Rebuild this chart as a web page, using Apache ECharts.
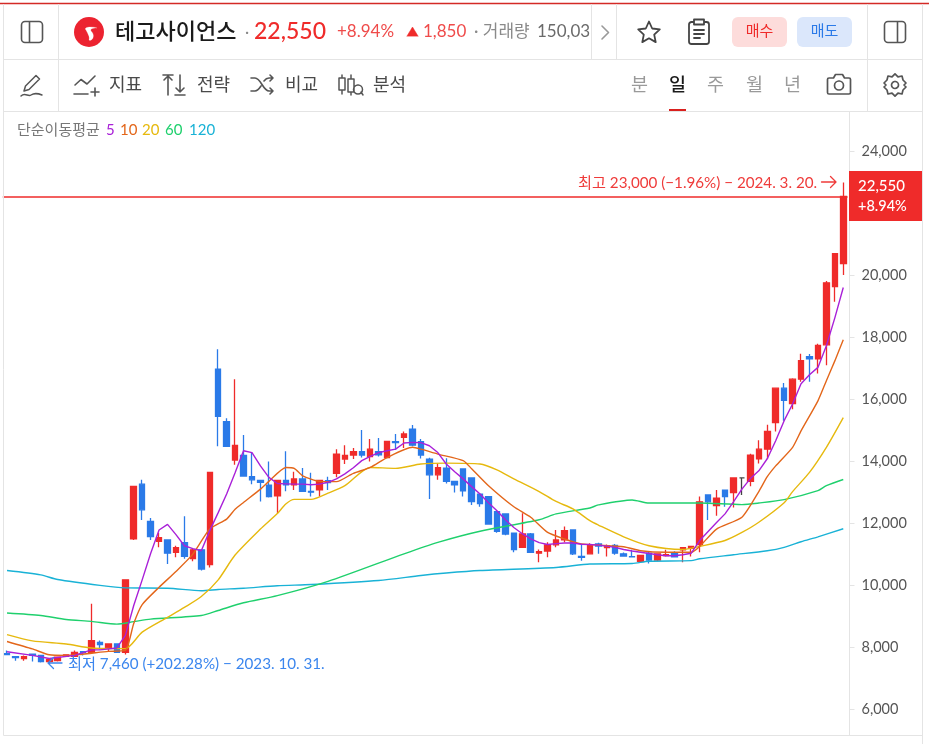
<!DOCTYPE html>
<html lang="ko">
<head>
<meta charset="utf-8">
<title>테고사이언스 일봉 차트</title>
<style>
  html, body { margin: 0; padding: 0; background: #fff; overflow: hidden; }
  #chart { width: 929px; height: 744px; }
</style>
<script src="https://cdn.jsdelivr.net/npm/echarts@6/dist/echarts.min.js"></script>
</head>
<body>
<div id="chart"></div>
<script>
// 일봉 시세 (원)
const opens = [7790,7690,7630,7770,7730,7530,7560,7700,7700,7850,7830,8150,7970,8100,7830,
  11490,13260,12060,11410,11460,11060,11370,10860,11140,10660,16970,15280,14040,14190,13500,
  13380,13230,12880,13380,13240,13430,13030,13080,13370,13610,14070,14200,14310,14150,14310,
  14120,14630,14770,15040,14630,14070,13560,13780,13350,13750,13460,12940,12860,12370,12300,
  11680,11220,11650,11030,11100,11300,11460,11780,10930,11010,11330,11210,11280,11010,10920,
  10770,11030,10810,10950,11050,11140,11190,11310,12910,12570,13070,12990,13460,13350,14080,
  14390,15250,16360,15860,16650,17380,17310,17760,19640,20380];
const closes = [7760,7660,7690,7730,7530,7600,7670,7750,7830,7810,8210,8080,8100,7830,10170,
  13190,12430,11570,11530,11030,11210,10930,11140,10520,13640,15450,14480,14510,13520,13400,
  13320,12860,13380,13240,13430,13030,13000,13380,13310,14230,14190,14310,14200,14390,14210,
  14640,14600,14880,14520,14200,13560,13790,13350,13240,13040,12700,12630,11970,11740,11650,
  11150,11650,11060,11080,11300,11460,11760,11010,10900,11310,11260,11270,11030,10940,10910,
  10960,10810,11010,10980,10910,11210,11250,12690,12690,12810,12860,13460,13460,14200,14390,
  14960,16360,15970,16650,17250,17310,17740,19760,20700,22550];
const lows = [7760,7560,7560,7530,7500,7460,7530,7690,7690,7730,7830,7920,7850,7830,7760,
  11460,12100,11460,11220,10680,10900,10850,10770,10470,10570,14480,14480,13890,13520,13260,
  12700,12830,12320,13030,13070,13020,12860,12860,13070,13480,13910,14070,14120,13990,14150,
  14110,14360,14430,14480,14090,12780,13400,13280,12990,12860,12590,12530,11950,11690,11610,
  11060,11200,11050,10740,10900,11220,11380,10970,10790,11000,11010,10920,10980,10920,10890,
  10760,10700,10770,10920,10890,10740,10920,11060,12100,12240,12530,12510,12910,13190,13930,
  14070,14960,15310,15680,16570,16570,16830,17100,19150,20010];
const highs = [7890,7690,7730,7770,7730,7620,7690,7770,7890,7860,9400,8210,8110,8110,10170,
  13200,13400,12170,11690,11470,11270,12220,11200,11140,13640,17620,15390,16650,14850,14280,
  13390,13990,13400,14320,13660,13780,13630,13400,13500,14390,14520,14430,15010,14720,14750,
  14650,14880,14960,15170,14720,14110,13930,14100,13370,13760,13470,12950,12870,12380,12310,
  11690,12320,11680,11150,11380,11780,11890,11790,11330,11350,11370,11310,11330,11050,11140,
  10970,11090,11020,11140,11090,11220,11270,12860,12920,13070,13080,13470,13460,14240,14680,
  15180,16370,16530,16680,17470,17460,17790,19820,20720,23000];
const flatDay = 87;

// 단순이동평균 [봉 번호, 값]
const ma5 = [[0,7850],[3,7730],[5,7630],[8,7730],[10,7910],[11,7910],[13,7970],[14,8370],[15,9340],[16,10170],
  [17,11020],[18,11780],[19,11960],[20,11630],[21,11270],[22,11180],[23,11110],[24,11760],[25,12340],[26,12940],
  [27,13630],[28,14340],[29,14280],[30,13850],[31,13480],[32,13280],[33,13270],[34,13260],[35,13260],[36,13240],
  [37,13260],[38,13320],[39,13430],[40,13590],[41,13790],[42,14020],[43,14160],[44,14280],[45,14340],[46,14390],
  [47,14590],[48,14610],[49,14600],[50,14500],[51,14280],[52,13910],[53,13660],[54,13430],[55,13180],[56,12940],
  [57,12660],[58,12400],[59,12110],[60,11860],[61,11660],[62,11490],[63,11370],[64,11310],[65,11340],[66,11360],
  [67,11360],[68,11320],[69,11310],[70,11290],[71,11260],[72,11220],[73,11150],[74,11100],[75,11060],[76,11020],
  [77,10980],[78,10950],[79,10950],[80,10980],[81,11030],[82,11440],[83,11730],[84,12020],[85,12300],[86,12690],
  [87,13100],[88,13440],[89,13690],[90,14080],[91,14660],[92,15310],[93,15850],[94,16500],[95,16790],[96,17030],
  [97,17730],[98,18630],[99,19610]];
const ma10 = [[0,8180],[3,7940],[5,7750],[7,7730],[12,7860],[14,7890],[15,8760],[16,9370],[18,9930],[20,10440],
  [22,11000],[24,11810],[26,12130],[27,12450],[28,12670],[30,13100],[31,13350],[33,13800],[34,13770],[35,13530],
  [37,13350],[39,13340],[41,13610],[43,13800],[45,14120],[48,14450],[49,14390],[51,14230],[54,14020],[55,13760],
  [57,13210],[60,12530],[62,12190],[64,11700],[66,11490],[68,11330],[73,11240],[75,11110],[78,11060],[81,11060],
  [82,11250],[84,11810],[87,12190],[89,13020],[90,13500],[91,13850],[93,14450],[94,14980],[96,15950],[97,16600],
  [98,17240],[99,17920]];
const ma20 = [[0,8400],[3,8200],[7,8100],[10,7970],[14,7950],[16,8480],[19,8960],[21,9280],[23,9630],[25,10170],
  [27,10970],[30,11810],[32,12310],[33,12620],[34,12770],[36,12770],[38,12970],[40,13210],[43,13800],[46,13770],
  [49,13910],[52,13940],[56,13910],[58,13720],[60,13430],[63,13020],[65,12700],[67,12460],[69,12080],[70,11940],
  [73,11560],[76,11270],[80,11150],[82,11250],[85,11440],[87,11700],[89,12030],[92,12660],[93,13020],[95,13640],
  [97,14450],[99,15410]];
const ma60 = [[0,9100],[4,9020],[7,8890],[10,8830],[13,8740],[15,8820],[17,8900],[23,9020],[25,9180],[28,9430],
  [32,9660],[38,10120],[47,11010],[51,11380],[56,11740],[63,12110],[65,12300],[69,12490],[70,12590],[74,12750],
  [76,12650],[82,12650],[87,12600],[89,12650],[92,12760],[96,13050],[97,13210],[99,13410]];
const ma120 = [[0,10470],[4,10330],[6,10180],[11,9990],[14,9910],[19,9900],[23,9820],[25,9860],[28,9900],[32,9980],
  [36,10020],[44,10150],[49,10310],[52,10390],[56,10470],[65,10570],[69,10680],[74,10700],[76,10770],[81,10790],
  [82,10850],[86,10980],[90,11110],[92,11220],[94,11400],[96,11560],[99,11820]];

// 가격축 눈금
const priceTicks = [6000,8000,10000,12000,14000,16000,18000,20000,24000];
const currentPrice = 22550;

// 머리글과 범례 문구
const stockName = '테고사이언스';
const maLegend = [['5','#a920d8',106],['10','#e3661a',120],['20','#e6b90e',142],['60','#1fd06d',165],['120','#19b2d6',189]];
const toolMenu = [['지표',109],['전략',197],['비교',285],['분석',373]];
const periods = [['분',631,'#9a9a9a'],['일',669,'#1b1b1b'],['주',707,'#9a9a9a'],['월',746,'#9a9a9a'],['년',784,'#9a9a9a']];

const RED = '#ef2b2a', BLUE = '#2a7ae8', LINE = '#e4e4e4', ICON = '#555';
const FONT = '"Lato","Noto Sans CJK KR","Noto Sans",sans-serif';

function txt(text, x, y, size, fill, weight, align) {
  return { type: 'text', x, y, z: 100, silent: true, style: {
    text, fill, font: (weight || 400) + ' ' + size + 'px ' + FONT,
    textAlign: align || 'left', textVerticalAlign: 'middle',
    align: align || 'left', verticalAlign: 'middle'
  } };
}
function rule(x1, y1, x2, y2, stroke, w) {
  return { type: 'line', z: 60, silent: true, shape: { x1, y1, x2, y2 }, style: { stroke: stroke || LINE, lineWidth: w || 1 } };
}
// 아이콘 윤곽은 SVG 경로를 도형 클래스로 등록해서 그린다
let iconCount = 0;
function icon(pathData, x, y, stroke, w, fill) {
  const name = 'toolbarIcon' + (iconCount++);
  echarts.graphic.registerShape(name, echarts.graphic.extendPath(pathData));
  return { type: name, x, y, z: 100, silent: true,
    style: { stroke: stroke || ICON, lineWidth: w === undefined ? 1.6 : w, fill: fill || 'none', lineCap: 'round', lineJoin: 'round' } };
}

const chrome = [
  // 구획선
  rule(0, 3.5, 929, 3.5, '#d42a26', 1.5),
  rule(3.5, 4, 3.5, 735.5),
  rule(58.5, 4, 58.5, 111.5),
  rule(591.5, 4, 591.5, 59.5),
  rule(616.5, 4, 616.5, 59.5),
  rule(867.5, 4, 867.5, 111.5),
  rule(922.5, 4, 922.5, 744),
  rule(3.5, 59.5, 922.5, 59.5),
  rule(3.5, 111.5, 922.5, 111.5),
  rule(849.5, 111.5, 849.5, 735.5),
  rule(3.5, 735.5, 922.5, 735.5),

  // 윗줄: 종목 정보
  icon('M4 .5h14a3.5 3.5 0 0 1 3.5 3.5v14a3.5 3.5 0 0 1-3.5 3.5H4A3.5 3.5 0 0 1 .5 18V4A3.5 3.5 0 0 1 4 .5zM8.5 .5v21', 21, 21),
  { type: 'circle', z: 100, silent: true, shape: { cx: 89, cy: 32, r: 15 }, style: { fill: '#ec2330' } },
  icon('M6 7C3 4 11 3 17 5 12 5 10 6 11 8c2 2 3 4 2 7-1 2-3 3-4 2 1-3-1-6-3-10z', 80, 23, '#ffffff', 0.2, '#ffffff'),
  txt(stockName, 115, 32, 22, '#1b1b1b', 500),
  txt('·', 245, 32, 16, '#888'),
  txt('22,550', 254, 32, 23, RED, 500),
  txt('+8.94%', 337, 32, 17, '#ef4b4a'),
  icon('M0 10L5.5 1 11 10z', 407, 26, RED, 0.5, RED),
  txt('1,850', 423, 32, 17, '#ef4b4a'),
  txt('· 거래량', 474, 32, 17, '#8a8a8a'),
  txt('150,03', 537, 32, 17, '#6a6a6a'),
  icon('M0 0l6.5 6.5L0 13', 602, 26, '#999', 1.6),
  icon('M12 1.5l3.2 7 7.6.9-5.6 5.2 1.5 7.5L12 18.3 5.3 22.1l1.5-7.5L1.2 9.4l7.6-.9z', 637, 20, '#444', 1.8),
  icon('M6 4H3.5A2.5 2.5 0 0 0 1 6.5v17A2.5 2.5 0 0 0 3.5 26h15a2.5 2.5 0 0 0 2.5-2.5v-17A2.5 2.5 0 0 0 18.500 4H16M6 1.500h10v5H6zM6 12h10M6 16h10M6 20h6', 688, 18, '#444', 1.8),
  { type: 'rect', z: 90, silent: true, shape: { x: 732, y: 17, width: 55, height: 30, r: 6 }, style: { fill: '#fddcdb' } },
  { type: 'rect', z: 90, silent: true, shape: { x: 797, y: 17, width: 55, height: 30, r: 6 }, style: { fill: '#dbe7fb' } },
  txt('매수', 759.5, 31, 15, RED, 400, 'center'),
  txt('매도', 824.5, 31, 15, BLUE, 400, 'center'),
  icon('M4 .5h14a3.5 3.5 0 0 1 3.5 3.5v14a3.5 3.5 0 0 1-3.5 3.5H4A3.5 3.5 0 0 1 .5 18V4A3.5 3.5 0 0 1 4 .5zM13.500 .5v21', 884, 21),

  // 둘째 줄: 도구 모음
  icon('M15 2.500l3.500 3.500L8 16.500l-5 1.500 1.500-5zM0 23c4-4 7 1 10-1s6-2 11 0', 21, 73, ICON, 1.5),
  icon('M1 10L7 4.500l6 4.500L21 1M0 19h14M21 13v8M17 17h8', 74, 75),
  icon('M5 20V1M1 5l4-4 4 4M0 0h10M17 0v17M13 13l4 4 4-4M12 20h10', 163, 75),
  icon('M0 3h4c6 0 8 13 14 13h4M0 16h4c2.500 0 4-2 6-5M13 6c1.500-2 3-3 5-3h4M19 0l3 3-3 3M19 13l3 3-3 3', 251, 75),
  icon('M4 0v3M1 3h6v12H1zM4 15v4M13 0v4M10 4h6v13h-6zM13 17v3M20 10a4.500 4.500 0 1 0 .01 0M23 17l2 3', 338, 75, ICON, 1.5),
  ...toolMenu.map(m => txt(m[0], m[1], 85, 18, '#4a4a4a', 400)),
  ...periods.map(p => txt(p[0], p[1], 85, 18.500, p[2], p[0] === '일' ? 500 : 400)),
  rule(669, 110, 686, 110, '#d9201e', 2),
  icon('M2.500 4H7L9 .5h7L18 4h4.500A1.500 1.500 0 0 1 24 5.500v13a1.500 1.500 0 0 1-1.500 1.500h-20A1.500 1.500 0 0 1 1 18.500v-13A1.500 1.500 0 0 1 2.500 4zM12.500 7a4.500 4.500 0 1 0 .01 0', 826.5, 74, ICON, 1.7),
  icon('M11 .8l3 3 4-.8 1 4L22 10l-2 2 2 2-3 3-1 4-4-.8-3 3-3-3-4 .8-1-4-3-3 2-2-2-2 3-3 1-4 4 .8zM11 8.500a3.500 3.500 0 1 0 .01 0', 884, 73, ICON, 1.7),

  // 이동평균 범례
  txt('단순이동평균', 17, 130, 15, '#777'),
  ...maLegend.map(m => txt(m[0], m[2], 130, 15, m[1])),

  // 최고가와 최저가 표시
  txt('최고 23,000 (−1.96%) − 2024. 3. 20.', 578, 183, 15.2, '#ef3b3a'),
  icon('M0 5.500h14M9 0l5.500 5.500L9 11', 821.5, 176.5, '#ef3b3a', 1.3),
  txt('최저 7,460 (+202.28%) − 2023. 10. 31.', 68, 664, 15.2, '#3b86ee'),
  icon('M15 5.500H1M6.500 0L1 5.500 6.500 11', 47, 657.5, '#3b86ee', 1.3),

  // 현재가 꼬리표
  { type: 'rect', z: 90, silent: true, shape: { x: 849, y: 171, width: 73, height: 50 }, style: { fill: RED } },
  txt('22,550', 858, 186, 15, '#fff', 500),
  txt('+8.94%', 858, 206, 14.500, '#fff', 500)
];

const candles = opens.map((o, i) => {
  const value = [o, closes[i], lows[i], highs[i]];
  return i === flatDay
    ? { value, itemStyle: { color: '#444', color0: '#444', borderColor: '#444', borderColor0: '#444', borderColorDoji: '#444' } }
    : value;
});
const maSeries = (data, color, smooth) => ({
  type: 'line', data, symbol: 'none', silent: true, z: 3, smooth: smooth || false,
  lineStyle: { color, width: 1.4 }, itemStyle: { color }, emphasis: { disabled: true }
});

const chart = echarts.init(document.getElementById('chart'), null, { renderer: 'canvas' });
chart.setOption({
  animation: false,
  backgroundColor: '#fff',
  textStyle: { fontFamily: FONT },
  grid: { left: 2.8, right: 81.5, top: 112, bottom: 9, containLabel: false },
  xAxis: {
    type: 'category',
    data: opens.map((_, i) => i),
    boundaryGap: true,
    axisLine: { show: false }, axisTick: { show: false }, axisLabel: { show: false }, splitLine: { show: false }
  },
  yAxis: {
    type: 'value',
    position: 'right',
    offset: 2,
    min: 5160,
    max: 25277,
    axisLine: { show: false },
    splitLine: { show: false },
    axisTick: { show: true, length: 5, lineStyle: { color: '#e4e4e4' }, customValues: priceTicks },
    axisLabel: {
      show: true, margin: 12, fontSize: 14.5, color: '#555', fontFamily: FONT,
      padding: [2, 0, 0, 0],
      customValues: priceTicks,
      formatter: v => Number(v).toLocaleString('en-US')
    }
  },
  graphic: { elements: chrome },
  series: [
    {
      type: 'candlestick',
      data: candles,
      barWidth: 6,
      silent: true,
      z: 2,
      itemStyle: { color: RED, color0: BLUE, borderColor: RED, borderColor0: BLUE, borderWidth: 1.3 },
      markLine: {
        silent: true, symbol: ['none', 'none'], animation: false,
        label: { show: false },
        lineStyle: { color: RED, width: 1.5, type: 'solid' },
        data: [{ yAxis: currentPrice }]
      }
    },
    maSeries(ma120, '#19b2d6', 0.25),
    maSeries(ma60, '#1fd06d', 0.25),
    maSeries(ma20, '#e6b90e', 0.25),
    maSeries(ma10, '#e3661a', 0.2),
    maSeries(ma5, '#a920d8')
  ]
});
</script>
</body>
</html>
